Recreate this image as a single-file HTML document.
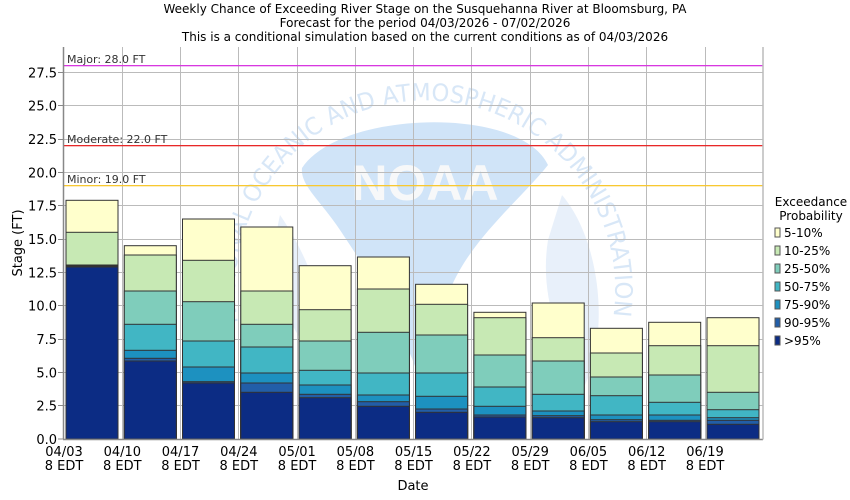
<!DOCTYPE html>
<html><head><meta charset="utf-8"><style>
body{margin:0;background:#fff}
svg{display:block;font-family:"DejaVu Sans","Liberation Sans",sans-serif}
</style></head><body>
<svg width="850" height="500" viewBox="0 0 850 500" xmlns="http://www.w3.org/2000/svg">
<rect width="850" height="500" fill="#fff"/>
<g font-size="12" fill="#000" text-anchor="middle">
<text x="425" y="13">Weekly Chance of Exceeding River Stage on the Susquehanna River at Bloomsburg, PA</text>
<text x="425" y="27">Forecast for the period 04/03/2026 - 07/02/2026</text>
<text x="425" y="41">This is a conditional simulation based on the current conditions as of 04/03/2026</text>
</g>
<!-- watermark -->
<g>
<path d="M302,168 C340,110 520,105 548,165 C520,200 470,240 450,290 C440,330 430,360 420,380 C400,320 360,260 340,230 C320,200 300,185 302,168 Z" fill="#d0e4f8"/>
<path d="M562,195 C600,240 610,330 585,385 C555,340 540,290 548,240 Z" fill="#e8f0fa"/>
<path d="M280,215 C268,265 280,325 322,365 C332,320 312,262 280,215 Z" fill="#e8f0fa"/>
<text x="425" y="200" font-size="50" font-weight="bold" fill="#f7f8f9" text-anchor="middle" font-family="Liberation Sans, sans-serif">NOAA</text>
<path id="arc" d="M238,323 A190,190 0 1 1 590,385" fill="none"/>
<text font-size="24" fill="#d8e7f7"><textPath href="#arc" textLength="655" lengthAdjust="spacingAndGlyphs">NATIONAL OCEANIC AND ATMOSPHERIC ADMINISTRATION</textPath></text>
</g>
<!-- grid -->
<g stroke="#bbb" stroke-width="1">
<line x1="64" x2="763" y1="405.5" y2="405.5"/><line x1="64" x2="763" y1="372.5" y2="372.5"/>
<line x1="64" x2="763" y1="339.5" y2="339.5"/><line x1="64" x2="763" y1="305.5" y2="305.5"/>
<line x1="64" x2="763" y1="272.5" y2="272.5"/><line x1="64" x2="763" y1="239.5" y2="239.5"/>
<line x1="64" x2="763" y1="205.5" y2="205.5"/><line x1="64" x2="763" y1="172.5" y2="172.5"/>
<line x1="64" x2="763" y1="139.5" y2="139.5"/><line x1="64" x2="763" y1="105.5" y2="105.5"/>
<line x1="64" x2="763" y1="72.5" y2="72.5"/>
<line x1="122.5" x2="122.5" y1="47" y2="439"/><line x1="180.5" x2="180.5" y1="47" y2="439"/>
<line x1="238.5" x2="238.5" y1="47" y2="439"/><line x1="297.5" x2="297.5" y1="47" y2="439"/>
<line x1="355.5" x2="355.5" y1="47" y2="439"/><line x1="413.5" x2="413.5" y1="47" y2="439"/>
<line x1="471.5" x2="471.5" y1="47" y2="439"/><line x1="530.5" x2="530.5" y1="47" y2="439"/>
<line x1="588.5" x2="588.5" y1="47" y2="439"/><line x1="646.5" x2="646.5" y1="47" y2="439"/>
<line x1="705.5" x2="705.5" y1="47" y2="439"/>
</g>
<!-- flood lines -->
<rect x="64" y="65" width="699" height="1.3" fill="#d838e0"/>
<rect x="64" y="145" width="699" height="1.3" fill="#e82828"/>
<rect x="64" y="185" width="699" height="1.3" fill="#f8c830"/>
<g font-size="11" fill="#333">
<text x="67" y="63">Major: 28.0 FT</text>
<text x="67" y="143">Moderate: 22.0 FT</text>
<text x="67" y="183">Minor: 19.0 FT</text>
</g>
<!-- bars -->
<g stroke="#333" stroke-width="1">
<g transform="translate(66,0)">
<rect width="52" y="200.3" height="238.7" fill="#ffffcc"/><rect width="52" y="232.3" height="206.7" fill="#c7e9b4"/><rect width="52" y="265" height="174" fill="#7fcdbb"/><rect width="52" y="265.4" height="173.6" fill="#41b6c4"/><rect width="52" y="265.7" height="173.3" fill="#1d91c0"/><rect width="52" y="266.3" height="172.7" fill="#225ea8"/><rect width="52" y="267" height="172" fill="#0c2c84"/></g>
<g transform="translate(124.3,0)">
<rect width="52" y="245.7" height="193.3" fill="#ffffcc"/><rect width="52" y="255" height="184" fill="#c7e9b4"/><rect width="52" y="291" height="148" fill="#7fcdbb"/><rect width="52" y="324.3" height="114.7" fill="#41b6c4"/><rect width="52" y="350.3" height="88.7" fill="#1d91c0"/><rect width="52" y="358.3" height="80.7" fill="#225ea8"/><rect width="52" y="361" height="78" fill="#0c2c84"/></g>
<g transform="translate(182.5,0)">
<rect width="52" y="219" height="220" fill="#ffffcc"/><rect width="52" y="260.3" height="178.7" fill="#c7e9b4"/><rect width="52" y="301.7" height="137.3" fill="#7fcdbb"/><rect width="52" y="341" height="98" fill="#41b6c4"/><rect width="52" y="367" height="72" fill="#1d91c0"/><rect width="52" y="381.7" height="57.3" fill="#225ea8"/><rect width="52" y="383" height="56" fill="#0c2c84"/></g>
<g transform="translate(240.8,0)">
<rect width="52" y="227" height="212" fill="#ffffcc"/><rect width="52" y="291" height="148" fill="#c7e9b4"/><rect width="52" y="324.3" height="114.7" fill="#7fcdbb"/><rect width="52" y="347" height="92" fill="#41b6c4"/><rect width="52" y="373" height="66" fill="#1d91c0"/><rect width="52" y="383" height="56" fill="#225ea8"/><rect width="52" y="392.3" height="46.7" fill="#0c2c84"/></g>
<g transform="translate(299.1,0)">
<rect width="52" y="265.7" height="173.3" fill="#ffffcc"/><rect width="52" y="309.7" height="129.3" fill="#c7e9b4"/><rect width="52" y="341" height="98" fill="#7fcdbb"/><rect width="52" y="370.3" height="68.7" fill="#41b6c4"/><rect width="52" y="385" height="54" fill="#1d91c0"/><rect width="52" y="394.3" height="44.7" fill="#225ea8"/><rect width="52" y="397.7" height="41.3" fill="#0c2c84"/></g>
<g transform="translate(357.4,0)">
<rect width="52" y="257" height="182" fill="#ffffcc"/><rect width="52" y="289" height="150" fill="#c7e9b4"/><rect width="52" y="332.3" height="106.7" fill="#7fcdbb"/><rect width="52" y="373" height="66" fill="#41b6c4"/><rect width="52" y="395" height="44" fill="#1d91c0"/><rect width="52" y="401.7" height="37.3" fill="#225ea8"/><rect width="52" y="406.3" height="32.7" fill="#0c2c84"/></g>
<g transform="translate(415.6,0)">
<rect width="52" y="284.3" height="154.7" fill="#ffffcc"/><rect width="52" y="304.3" height="134.7" fill="#c7e9b4"/><rect width="52" y="335" height="104" fill="#7fcdbb"/><rect width="52" y="373" height="66" fill="#41b6c4"/><rect width="52" y="396.3" height="42.7" fill="#1d91c0"/><rect width="52" y="409" height="30" fill="#225ea8"/><rect width="52" y="412.3" height="26.7" fill="#0c2c84"/></g>
<g transform="translate(473.9,0)">
<rect width="52" y="312.3" height="126.7" fill="#ffffcc"/><rect width="52" y="317.7" height="121.3" fill="#c7e9b4"/><rect width="52" y="355" height="84" fill="#7fcdbb"/><rect width="52" y="387" height="52" fill="#41b6c4"/><rect width="52" y="406.3" height="32.7" fill="#1d91c0"/><rect width="52" y="415" height="24" fill="#225ea8"/><rect width="52" y="417" height="22" fill="#0c2c84"/></g>
<g transform="translate(532.2,0)">
<rect width="52" y="303" height="136" fill="#ffffcc"/><rect width="52" y="337.7" height="101.3" fill="#c7e9b4"/><rect width="52" y="361" height="78" fill="#7fcdbb"/><rect width="52" y="394.3" height="44.7" fill="#41b6c4"/><rect width="52" y="411" height="28" fill="#1d91c0"/><rect width="52" y="415.7" height="23.3" fill="#225ea8"/><rect width="52" y="417.7" height="21.3" fill="#0c2c84"/></g>
<g transform="translate(590.4,0)">
<rect width="52" y="328.3" height="110.7" fill="#ffffcc"/><rect width="52" y="353" height="86" fill="#c7e9b4"/><rect width="52" y="377" height="62" fill="#7fcdbb"/><rect width="52" y="395.7" height="43.3" fill="#41b6c4"/><rect width="52" y="415" height="24" fill="#1d91c0"/><rect width="52" y="419.7" height="19.3" fill="#225ea8"/><rect width="52" y="421.7" height="17.3" fill="#0c2c84"/></g>
<g transform="translate(648.7,0)">
<rect width="52" y="322.3" height="116.7" fill="#ffffcc"/><rect width="52" y="345.7" height="93.3" fill="#c7e9b4"/><rect width="52" y="375" height="64" fill="#7fcdbb"/><rect width="52" y="402.3" height="36.7" fill="#41b6c4"/><rect width="52" y="415" height="24" fill="#1d91c0"/><rect width="52" y="420.3" height="18.7" fill="#225ea8"/><rect width="52" y="421.7" height="17.3" fill="#0c2c84"/></g>
<g transform="translate(707,0)">
<rect width="52" y="317.7" height="121.3" fill="#ffffcc"/><rect width="52" y="345.7" height="93.3" fill="#c7e9b4"/><rect width="52" y="392.3" height="46.7" fill="#7fcdbb"/><rect width="52" y="409.7" height="29.3" fill="#41b6c4"/><rect width="52" y="417.7" height="21.3" fill="#1d91c0"/><rect width="52" y="420.3" height="18.7" fill="#225ea8"/><rect width="52" y="424.3" height="14.7" fill="#0c2c84"/></g>
</g>
<!-- axes -->
<line x1="63.5" x2="63.5" y1="47" y2="439.5" stroke="#888" stroke-width="1.5"/>
<line x1="63" x2="763" y1="439.5" y2="439.5" stroke="#888" stroke-width="1.5"/>
<line x1="763" x2="763" y1="47" y2="439.5" stroke="#bbb" stroke-width="1.5"/>
<g stroke="#888"><line x1="58" x2="63" y1="439" y2="439"/><line x1="58" x2="63" y1="405.5" y2="405.5"/><line x1="58" x2="63" y1="372.5" y2="372.5"/><line x1="58" x2="63" y1="339.5" y2="339.5"/><line x1="58" x2="63" y1="305.5" y2="305.5"/><line x1="58" x2="63" y1="272.5" y2="272.5"/><line x1="58" x2="63" y1="239.5" y2="239.5"/><line x1="58" x2="63" y1="205.5" y2="205.5"/><line x1="58" x2="63" y1="172.5" y2="172.5"/><line x1="58" x2="63" y1="139.5" y2="139.5"/><line x1="58" x2="63" y1="105.5" y2="105.5"/><line x1="58" x2="63" y1="72.5" y2="72.5"/></g>
<g font-size="13" fill="#000" text-anchor="end">
<text x="57" y="444">0.0</text><text x="57" y="410.7">2.5</text><text x="57" y="377.3">5.0</text><text x="57" y="344">7.5</text><text x="57" y="310.7">10.0</text><text x="57" y="277.3">12.5</text><text x="57" y="244">15.0</text><text x="57" y="210.7">17.5</text><text x="57" y="177.3">20.0</text><text x="57" y="144">22.5</text><text x="57" y="110.7">25.0</text><text x="57" y="77.3">27.5</text>
</g>
<text transform="translate(22,243) rotate(-90)" font-size="13" text-anchor="middle">Stage (FT)</text>
<g font-size="13" fill="#000" text-anchor="middle">
<text x="64" y="456">04/03</text><text x="64" y="470">8 EDT</text>
<text x="122.3" y="456">04/10</text><text x="122.3" y="470">8 EDT</text>
<text x="180.5" y="456">04/17</text><text x="180.5" y="470">8 EDT</text>
<text x="238.8" y="456">04/24</text><text x="238.8" y="470">8 EDT</text>
<text x="297.1" y="456">05/01</text><text x="297.1" y="470">8 EDT</text>
<text x="355.4" y="456">05/08</text><text x="355.4" y="470">8 EDT</text>
<text x="413.6" y="456">05/15</text><text x="413.6" y="470">8 EDT</text>
<text x="471.9" y="456">05/22</text><text x="471.9" y="470">8 EDT</text>
<text x="530.2" y="456">05/29</text><text x="530.2" y="470">8 EDT</text>
<text x="588.4" y="456">06/05</text><text x="588.4" y="470">8 EDT</text>
<text x="646.7" y="456">06/12</text><text x="646.7" y="470">8 EDT</text>
<text x="705" y="456">06/19</text><text x="705" y="470">8 EDT</text>
<text x="413" y="490">Date</text>
</g>
<!-- legend -->
<g font-size="12" fill="#000">
<text x="811" y="206" text-anchor="middle">Exceedance</text>
<text x="811" y="220" text-anchor="middle">Probability</text>
<g stroke="#555">
<rect x="775" y="228" width="5" height="9" fill="#ffffcc"/>
<rect x="775" y="246" width="5" height="9" fill="#c7e9b4"/>
<rect x="775" y="264" width="5" height="9" fill="#7fcdbb"/>
<rect x="775" y="282" width="5" height="9" fill="#41b6c4"/>
<rect x="775" y="300" width="5" height="9" fill="#1d91c0"/>
<rect x="775" y="318" width="5" height="9" fill="#225ea8"/>
<rect x="775" y="336" width="5" height="9" fill="#0c2c84"/>
</g>
<text x="784" y="237">5-10%</text>
<text x="784" y="255">10-25%</text>
<text x="784" y="273">25-50%</text>
<text x="784" y="291">50-75%</text>
<text x="784" y="309">75-90%</text>
<text x="784" y="327">90-95%</text>
<text x="784" y="345">&gt;95%</text>
</g>
</svg>
</body></html>
